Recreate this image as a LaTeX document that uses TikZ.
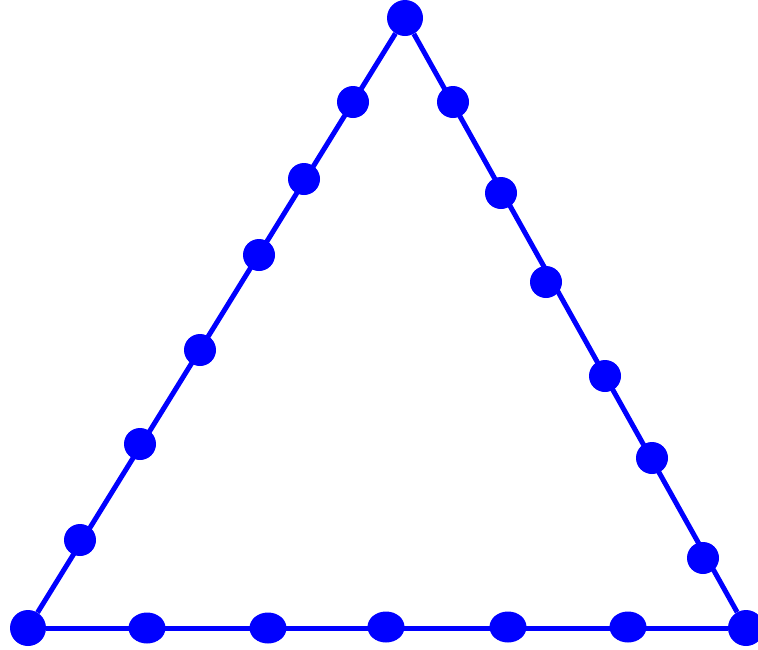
\documentclass[tikz,border=0pt]{standalone}
\usepackage{tikz}
\usepackage{xcolor}
\usetikzlibrary{shapes.geometric}

\definecolor{meshblue}{RGB}{0,0,255}

\begin{document}
\begin{tikzpicture}[
  x=1pt, y=-1pt,
  edge/.style={draw=meshblue, line width=5pt},
  corner/.style={circle, fill=meshblue, inner sep=0pt, minimum size=36pt},
  sidept/.style={circle, fill=meshblue, inner sep=0pt, minimum size=32pt},
  basept/.style={ellipse, fill=meshblue, inner sep=0pt, minimum width=37pt, minimum height=31pt}
]
\useasboundingbox (0,0) rectangle (758,649);
% corners
\node[corner] (top) at (405,18) {};
\node[corner] (left) at (28,628) {};
\node[corner] (right) at (746,628) {};
\draw[edge] (top) -- (left);
\draw[edge] (left) -- (right);
\draw[edge] (right) -- (top);
% points along the sides
\foreach \i/\x/\y in {1/353/102,2/304/179,3/259/255,4/200/350,5/140/444,6/80/540}{
  \node[sidept] (l\i) at (\x,\y) {};
}
\foreach \i/\x/\y in {1/453/102,2/501/193,3/546/282,4/605/376,5/652/458,6/703/558}{
  \node[sidept] (r\i) at (\x,\y) {};
}
\foreach \i/\x/\y in {1/147/628,2/268/628,3/386/627,4/508/627,5/628/627}{
  \node[basept] (b\i) at (\x,\y) {};
}
\end{tikzpicture}
\end{document}
